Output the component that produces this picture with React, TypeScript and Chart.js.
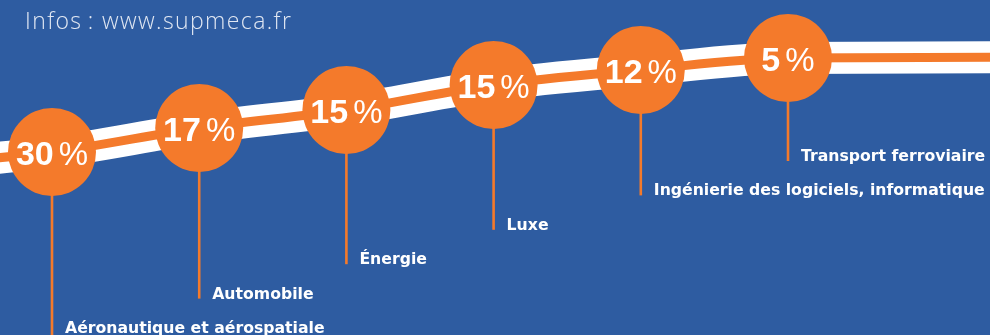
import React, { useEffect, useRef } from "react";
import { Chart, registerables } from "chart.js";

Chart.register(...registerables);

// Sectors and their share (%)
const categories: string[] = [
  "Aéronautique et aérospatiale",
  "Automobile",
  "Énergie",
  "Luxe",
  "Ingénierie des logiciels, informatique",
  "Transport ferroviaire",
];
const shares: number[] = [30, 17, 15, 15, 12, 5];

// Height of the decorative ribbon at each sector slot (y-scale units)
const ribbonLevels: number[] = [183, 207, 225, 250, 265, 277];
// Ribbon height just outside the left and right edges
const ribbonEdgeLevels: number[] = [169, 278];

const infoText = "Infos\u2009: www.supmeca.fr";

const BLUE = "#2e5ca1";
const ORANGE = "#f47a2b";

export default function App() {
  const ref = useRef<HTMLCanvasElement | null>(null);

  useEffect(() => {
    if (!ref.current) return;
    document.body.style.margin = "0";

    const circlePts = shares.map((_, i) => ({ x: i, y: ribbonLevels[i] }));
    const ribbonPts = [
      { x: -1, y: ribbonEdgeLevels[0] },
      ...ribbonLevels.map((v, i) => ({ x: i, y: v })),
      { x: categories.length + 1, y: ribbonEdgeLevels[1] },
    ];

    const RADIUS = 44;

    const deco = {
      id: "deco",
      beforeDraw(chart: any) {
        const { ctx, width, height } = chart;
        ctx.save();
        ctx.fillStyle = BLUE;
        ctx.fillRect(0, 0, width, height);
        ctx.fillStyle = "rgba(240,243,250,0.92)";
        ctx.font = '300 23px "Open Sans", "Lato", sans-serif';
        (ctx as any).letterSpacing = "1.4px";
        ctx.textBaseline = "alphabetic";
        ctx.textAlign = "left";
        ctx.fillText(infoText, 25, 29);
        (ctx as any).letterSpacing = "0px";
        ctx.restore();
      },
      afterDatasetsDraw(chart: any) {
        const { ctx } = chart;
        const xs = chart.scales.x;
        const ys = chart.scales.y;
        ctx.save();
        categories.forEach((label, i) => {
          const cx = xs.getPixelForValue(i);
          const cy = ys.getPixelForValue(ribbonLevels[i]);
          const base = ys.getPixelForValue(2 + i * 34.4);
          const stemEnd = i === 0 ? chart.height : base;
          // stem
          ctx.strokeStyle = ORANGE;
          ctx.lineWidth = 2.6;
          ctx.beginPath();
          ctx.moveTo(cx, cy + RADIUS - 1);
          ctx.lineTo(cx, stemEnd);
          ctx.stroke();
          // label
          ctx.fillStyle = "#ffffff";
          ctx.font = 'bold 15.7px "DejaVu Sans", sans-serif';
          ctx.textAlign = "left";
          ctx.textBaseline = "alphabetic";
          ctx.fillText(label, cx + 13, base);
        });
        // percentages
        shares.forEach((v, i) => {
          const cx = xs.getPixelForValue(i);
          const cy = ys.getPixelForValue(ribbonLevels[i]);
          const num = String(v);
          ctx.font = 'bold 34px "Liberation Sans", Arial, sans-serif';
          const dw = ctx.measureText(num).width;
          ctx.font = '33px "Liberation Sans", Arial, sans-serif';
          const pw = ctx.measureText("%").width;
          const gap = 5;
          const total = dw + gap + pw;
          const x0 = cx - total / 2;
          const by = cy + 12.5;
          ctx.fillStyle = "#ffffff";
          ctx.textAlign = "left";
          ctx.textBaseline = "alphabetic";
          ctx.font = 'bold 34px "Liberation Sans", Arial, sans-serif';
          ctx.fillText(num, x0, by);
          ctx.font = '33px "Liberation Sans", Arial, sans-serif';
          ctx.fillText("%", x0 + dw + gap, by);
        });
        ctx.restore();
      },
    };

    const chart = new Chart(ref.current, {
      type: "scatter",
      data: {
        datasets: [
          {
            type: "scatter",
            data: circlePts,
            pointRadius: RADIUS,
            pointHoverRadius: RADIUS,
            pointBackgroundColor: ORANGE,
            pointBorderWidth: 0,
            pointBorderColor: ORANGE,
            clip: false,
            order: 0,
          } as any,
          {
            type: "line",
            data: ribbonPts,
            borderColor: ORANGE,
            borderWidth: 9,
            pointRadius: 0,
            cubicInterpolationMode: "monotone",
            borderCapStyle: "butt",
            fill: false,
            clip: false,
            order: 1,
          } as any,
          {
            type: "line",
            data: ribbonPts,
            borderColor: "#ffffff",
            borderWidth: 32,
            pointRadius: 0,
            cubicInterpolationMode: "monotone",
            borderCapStyle: "butt",
            fill: false,
            clip: false,
            order: 2,
          } as any,
        ],
      },
      options: {
        responsive: false,
        animation: false,
        events: [],
        layout: { padding: 0, autoPadding: false },
        plugins: {
          legend: { display: false },
          tooltip: { enabled: false },
        },
        scales: {
          x: { type: "linear", display: false, min: -0.3533, max: 6.3723 },
          y: { type: "linear", display: false, min: 0, max: 335 },
        },
      },
      plugins: [deco],
    });

    return () => chart.destroy();
  }, []);

  return (
    <div style={{ position: "fixed", left: 0, top: 0, width: 990, height: 335 }}>
      <canvas ref={ref} width={990} height={335} style={{ display: "block" }} />
    </div>
  );
}
